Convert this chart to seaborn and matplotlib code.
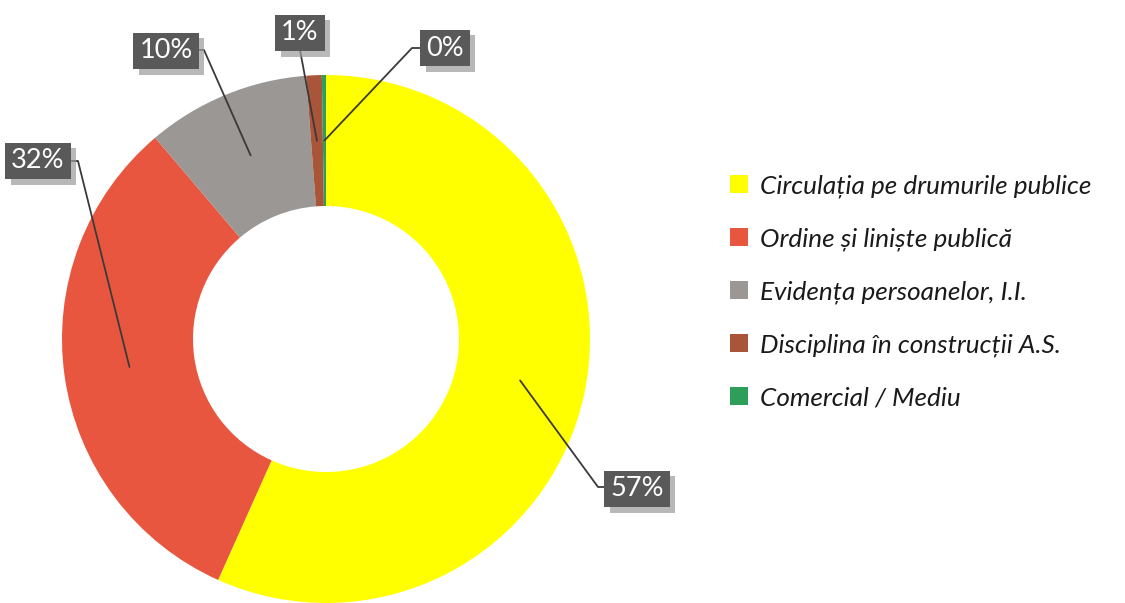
#%% Preparations
import matplotlib
matplotlib.use("Agg")
import matplotlib.pyplot as plt
import matplotlib.patheffects as pe
import seaborn as sns
import numpy as np

sns.set_style("white")
plt.rcParams["font.family"] = ["Lato", "DejaVu Sans"]

#%% data
categories = ["Circulația pe drumurile publice", "Ordine și liniște publică",
              "Evidența persoanelor, I.I.", "Disciplina în construcții A.S.",
              "Comercial / Mediu"]
shares = [56.7, 32.1, 10.0, 0.95, 0.25]
palette = ["#FFFF00", "#E8563F", "#9A9794", "#A9553A", "#2E9E5B"]

# label box centres (pixels from top-left) and leader elbows
label_pos = [(637, 489), (38, 161), (166, 51), (300, 33), (445, 48)]
elbows = [[(598, 487), (610, 487)], [(78, 161), (66, 161)], [(204, 50), (193, 50)],
          [(300, 50)], [(412, 48), (424, 48)]]

W, H = 1125, 603
def py(y):
    return H - y

#%% Plot
fig = plt.figure(figsize=(W / 100, H / 100), dpi=100)
ax = fig.add_axes([0, 0, 1, 1])

cx, cy, R, width = 326, py(339), 264, 131
wedges, _ = ax.pie(shares, colors=palette, startangle=90, counterclock=False,
                   center=(cx, cy), radius=R,
                   wedgeprops=dict(width=width, edgecolor="none"))
ax.set_xlim(0, W)
ax.set_ylim(0, H)
ax.set_aspect("equal")
ax.axis("off")

rmid = R - width / 2
for w, val, (lx, ly), elb in zip(wedges, shares, label_pos, elbows):
    th = np.deg2rad((w.theta1 + w.theta2) / 2)
    axp, ayp = cx + rmid * np.cos(th), cy + rmid * np.sin(th)
    xs = [axp] + [p[0] for p in elb]
    ys = [ayp] + [py(p[1]) for p in elb]
    ax.plot(xs, ys, color="#3a3a3a", lw=1.3, zorder=3)
    t = ax.text(lx, py(ly), f"{round(val):.0f}%", ha="center", va="center",
                fontsize=19.5, color="white", zorder=5,
                bbox=dict(boxstyle="square,pad=0.22", fc="#595959", ec="none"))
    t.get_bbox_patch().set_path_effects(
        [pe.SimplePatchShadow(offset=(4, -4), shadow_rgbFace="#9a9a9a", alpha=0.7),
         pe.Normal()])

leg = ax.legend(wedges, categories, loc="upper left", bbox_to_anchor=(717 / W, 1 - 161 / H),
                frameon=False, handlelength=0.7, handleheight=0.7, handletextpad=0.45,
                labelspacing=1.13, borderpad=0,
                prop=dict(family=["Lato", "DejaVu Sans"], style="italic", size=18.8))
for txt in leg.get_texts():
    txt.set_color("#1a1a1a")

fig.savefig("out.png", dpi=100)
